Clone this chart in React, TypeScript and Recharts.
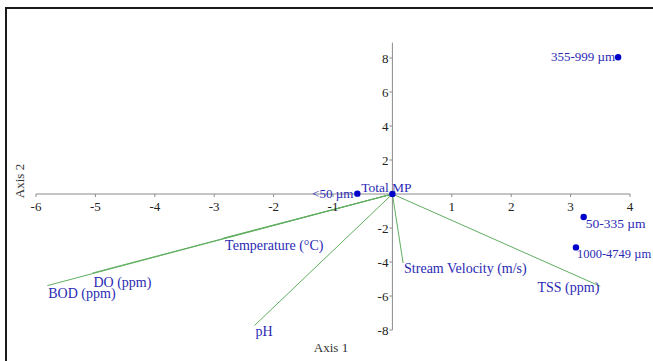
import React from "react";
import { ScatterChart, Scatter, XAxis, YAxis, ReferenceLine, ReferenceDot } from "recharts";

// Observation points (blue dots)
const pointNames = ["355-999 µm", "50-335 µm", "1000-4749 µm", "<50 µm", "Total MP"];
const pointX = [3.8, 3.22, 3.09, -0.59, 0];
const pointY = [8.04, -1.35, -3.14, 0.02, 0];

// Environmental vectors (green lines from origin)
const vectorNames = ["BOD (ppm)", "DO (ppm)", "Temperature (°C)", "pH", "Stream Velocity (m/s)", "TSS (ppm)"];
const vectorX = [-5.81, -5.05, -2.85, -2.32, 0.18, 3.5];
const vectorY = [-5.39, -4.65, -2.6, -7.73, -4.06, -5.43];

// Axis ticks
const xTicks = [-6, -5, -4, -3, -2, -1, 1, 2, 3, 4];
const yTicks = [-8, -6, -4, -2, 2, 4, 6, 8];
const xExtent = [-6, 4];
const yExtent = [-8, 8.9];

const W = 653;
const H = 361;
const FONT = "Liberation Serif, DejaVu Serif, serif";
const BLUE = "#2a2ab4";
const GREEN = "#5fae5f";
const AXIS = "#8a8a8a";

const points = pointNames.map((name, i) => ({ name, x: pointX[i], y: pointY[i] }));
const vectors = vectorNames.map((name, i) => ({ name, x: vectorX[i], y: vectorY[i] }));

// label placement styles relative to the mark (pixels)
const pointLabelStyle: Record<string, { dx: number; dy: number; anchor: string; size: number }> = {
  "355-999 µm": { dx: -3, dy: 4, anchor: "end", size: 13 },
  "50-335 µm": { dx: 2, dy: 11, anchor: "start", size: 13.5 },
  "1000-4749 µm": { dx: 1, dy: 11, anchor: "start", size: 12.5 },
  "<50 µm": { dx: -4, dy: 4, anchor: "end", size: 13 },
  "Total MP": { dx: -6, dy: -2, anchor: "middle", size: 13.5 },
};
const vectorLabelStyle: Record<string, { dx: number; dy: number; anchor: string }> = {
  "BOD (ppm)": { dx: 1, dy: 12, anchor: "start" },
  "DO (ppm)": { dx: 1, dy: 14, anchor: "start" },
  "Temperature (°C)": { dx: 2, dy: 12, anchor: "start" },
  "pH": { dx: 1, dy: 11, anchor: "start" },
  "Stream Velocity (m/s)": { dx: 1, dy: 10, anchor: "start" },
  "TSS (ppm)": { dx: -1, dy: 6, anchor: "end" },
};

const labelStyle = { fontFamily: FONT, fontSize: 14 };
const tickStyle = { fontFamily: FONT, fontSize: 13 };

const PointShape = (props: any) => {
  const { cx, cy, payload } = props;
  const s = pointLabelStyle[payload.name];
  return (
    <g>
      <circle cx={cx} cy={cy} r={3.2} fill="#0000cc" />
      <text
        x={cx + s.dx}
        y={cy + s.dy}
        textAnchor={s.anchor}
        style={{ fontFamily: FONT, fontSize: s.size }}
        fill={BLUE}
      >
        {payload.name}
      </text>
    </g>
  );
};

export default function App() {
  return (
    <div style={{ position: "absolute", left: 0, top: 0, width: W, height: H, overflow: "hidden", background: "#fff" }}>
      <div
        style={{
          position: "absolute",
          left: 5,
          top: 7,
          width: 700,
          height: 400,
          border: "2px solid #1a1a1a",
          boxSizing: "border-box",
        }}
      />
      <div style={{ position: "absolute", left: 0, top: 0 }}>
        <ScatterChart width={W} height={H} margin={{ top: 41, right: 23, bottom: 14, left: 36 }} style={{ overflow: "visible" }}>
          <XAxis type="number" dataKey="x" domain={[-6, 4]} hide />
          <YAxis type="number" dataKey="y" domain={[-9, 9]} hide />
          <ReferenceLine
            segment={[{ x: xExtent[0], y: 0 }, { x: xExtent[1], y: 0 }]}
            stroke={AXIS}
            strokeWidth={1}
            ifOverflow="visible"
          />
          <ReferenceLine
            segment={[{ x: 0, y: yExtent[0] }, { x: 0, y: yExtent[1] }]}
            stroke={AXIS}
            strokeWidth={1}
            ifOverflow="visible"
          />
          {xTicks.map((t) => (
            <ReferenceDot
              key={"xt" + t}
              x={t}
              y={0}
              r={0}
              ifOverflow="visible"
              shape={(p: any) => (
                <g>
                  <line x1={p.cx} y1={p.cy} x2={p.cx} y2={p.cy + 3} stroke={AXIS} />
                  <text x={p.cx} y={p.cy + 17} textAnchor="middle" style={tickStyle} fill="#222">
                    {t}
                  </text>
                </g>
              )}
            />
          ))}
          {yTicks.map((t) => (
            <ReferenceDot
              key={"yt" + t}
              x={0}
              y={t}
              r={0}
              ifOverflow="visible"
              shape={(p: any) => (
                <g>
                  <line x1={p.cx - 3} y1={p.cy} x2={p.cx} y2={p.cy} stroke={AXIS} />
                  <text x={p.cx - 4} y={p.cy + 4.5} textAnchor="end" style={tickStyle} fill="#222">
                    {t}
                  </text>
                </g>
              )}
            />
          ))}
          {vectors.map((v) => (
            <ReferenceLine
              key={"v" + v.name}
              segment={[{ x: 0, y: 0 }, { x: v.x, y: v.y }]}
              stroke={GREEN}
              strokeWidth={1}
              ifOverflow="visible"
            />
          ))}
          {vectors.map((v) => {
            const s = vectorLabelStyle[v.name];
            return (
              <ReferenceDot
                key={"vl" + v.name}
                x={v.x}
                y={v.y}
                r={0}
                ifOverflow="visible"
                shape={(p: any) => (
                  <text x={p.cx + s.dx} y={p.cy + s.dy} textAnchor={s.anchor} style={labelStyle} fill={BLUE}>
                    {v.name}
                  </text>
                )}
              />
            );
          })}
          <Scatter data={points} shape={PointShape} isAnimationActive={false} />
        </ScatterChart>
      </div>
      <svg width={W} height={H} style={{ position: "absolute", left: 0, top: 0, pointerEvents: "none" }}>
        <text x={331} y={352} textAnchor="middle" style={tickStyle} fill="#333">
          Axis 1
        </text>
        <text x={0} y={0} transform="translate(24,181) rotate(-90)" textAnchor="middle" style={tickStyle} fill="#333">
          Axis 2
        </text>
      </svg>
    </div>
  );
}
